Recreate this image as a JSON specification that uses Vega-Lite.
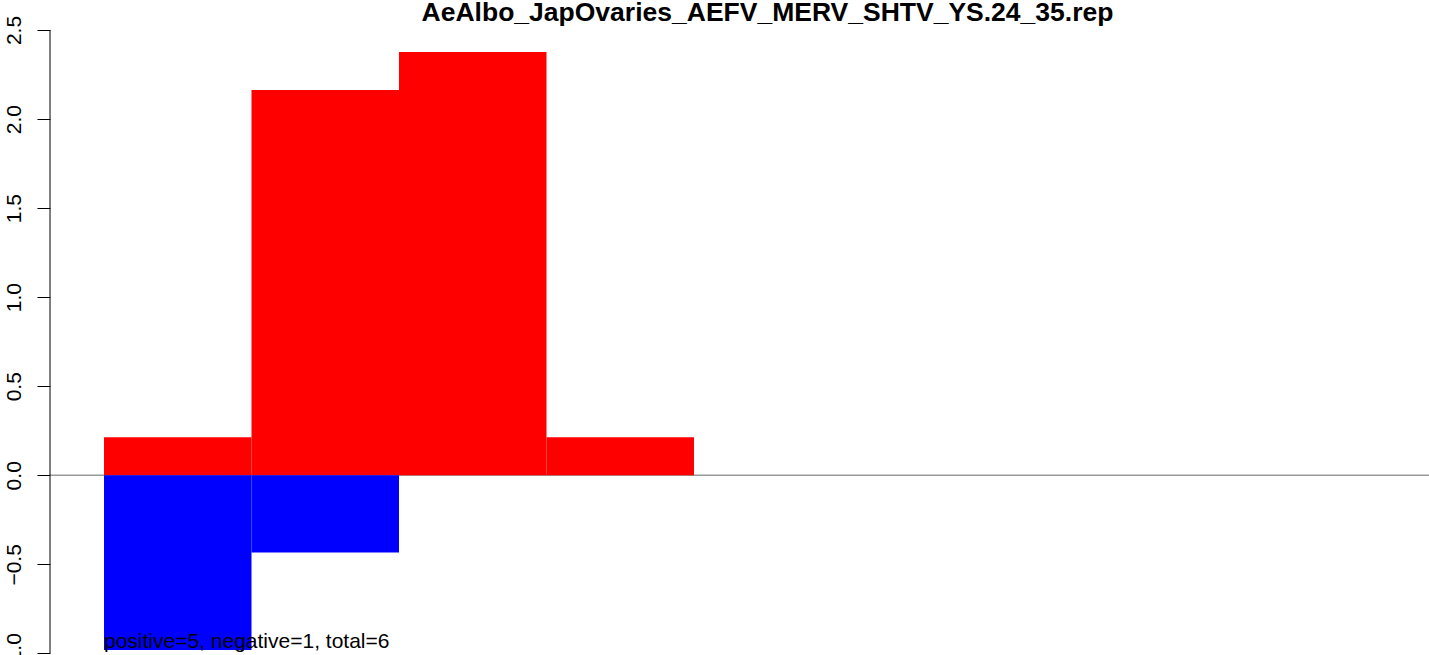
{
  "$schema": "https://vega.github.io/schema/vega-lite/v6.json",
  "autosize": {"type": "none"},
  "width": 1379,
  "height": 625,
  "padding": {"left": 50, "top": 30, "right": 0, "bottom": 0},
  "background": "white",
  "config": {"view": {"stroke": null}, "font": "Liberation Sans"},
  "title": {
    "text": "AeAlbo_JapOvaries_AEFV_MERV_SHTV_YS.24_35.rep",
    "font": "Liberation Sans",
    "fontSize": 26.5,
    "fontWeight": "bold",
    "color": "black",
    "anchor": "middle",
    "frame": "group",
    "baseline": "alphabetic",
    "offset": -32,
    "dx": 28
  },
  "datasets": {
    "bars": [
      {"start": 0, "end": 1, "base": 0, "value": 0.213, "sign": "positive"},
      {"start": 1, "end": 2, "base": 0, "value": 2.163, "sign": "positive"},
      {"start": 2, "end": 3, "base": 0, "value": 2.376, "sign": "positive"},
      {"start": 3, "end": 4, "base": 0, "value": 0.213, "sign": "positive"},
      {"start": 0, "end": 1, "base": 0, "value": -0.981, "sign": "negative"},
      {"start": 1, "end": 2, "base": 0, "value": -0.433, "sign": "negative"}
    ],
    "axisline": [{"x": -0.3661, "y": -1.0, "y2": 2.5}],
    "zeroline": [{"y": 0}],
    "note": [{"x": 0, "y": -0.97, "label": "positive=5, negative=1, total=6"}]
  },
  "layer": [
    {
      "data": {"name": "zeroline"},
      "mark": {"type": "rule", "color": "#9a9a9a", "strokeWidth": 1.5},
      "encoding": {
        "y": {"field": "y", "type": "quantitative", "scale": {"domain": [-1.009, 2.5], "nice": false, "zero": false}, "axis": {
          "values": [-1, -0.5, 0, 0.5, 1, 1.5, 2, 2.5],
          "format": ".1f",
          "domain": false,
          "grid": false,
          "title": null,
          "ticks": true,
          "tickSize": 13,
          "tickColor": "black",
          "tickWidth": 1,
          "labelAngle": 270,
          "labelAlign": "center",
          "labelBaseline": "alphabetic",
          "labelPadding": 17,
          "labelFontSize": 21,
          "labelFont": "Liberation Sans",
          "labelColor": "black",
          "labelFlush": false,
          "labelOverlap": false,
          "labelBound": false
        }}
      }
    },
    {
      "data": {"name": "bars"},
      "mark": {"type": "rect", "strokeWidth": 0},
      "encoding": {
        "x": {"field": "start", "type": "quantitative", "scale": {"domain": [-0.3661, 8.983], "nice": false, "zero": false}, "axis": null},
        "x2": {"field": "end"},
        "y": {"field": "value", "type": "quantitative"},
        "y2": {"field": "base"},
        "color": {"field": "sign", "type": "nominal", "scale": {"domain": ["positive", "negative"], "range": ["#ff0000", "#0000ff"]}, "legend": null}
      }
    },
    {
      "data": {"name": "axisline"},
      "mark": {"type": "rule", "color": "black", "strokeWidth": 1},
      "encoding": {
        "x": {"field": "x", "type": "quantitative"},
        "y": {"field": "y", "type": "quantitative"},
        "y2": {"field": "y2"}
      }
    },
    {
      "data": {"name": "note"},
      "mark": {"type": "text", "align": "left", "baseline": "alphabetic", "fontSize": 21, "font": "Liberation Sans", "color": "black"},
      "encoding": {
        "x": {"field": "x", "type": "quantitative"},
        "y": {"field": "y", "type": "quantitative"},
        "text": {"field": "label"}
      }
    }
  ]
}
